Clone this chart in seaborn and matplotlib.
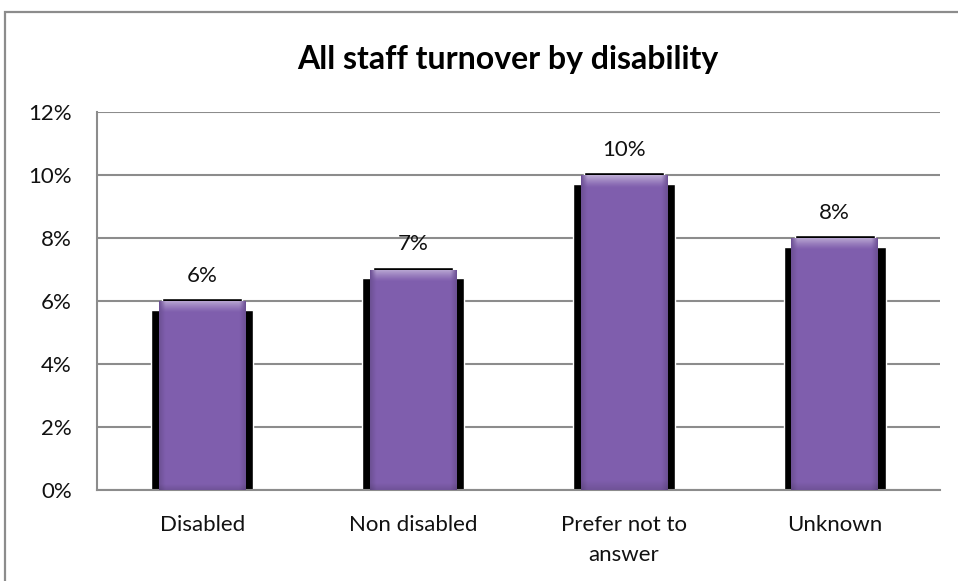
import numpy as np
import pandas as pd
import matplotlib
matplotlib.use("Agg")
import matplotlib.pyplot as plt
from matplotlib.patches import Rectangle
from matplotlib.ticker import FuncFormatter
import seaborn as sns

categories = ["Disabled", "Non disabled", "Prefer not to\nanswer", "Unknown"]
turnover_pct = [6, 7, 10, 8]
y_ticks = [0, 2, 4, 6, 8, 10, 12]

df = pd.DataFrame({"category": categories, "turnover": turnover_pct})

sns.set_theme(style="white")
plt.rcParams["font.family"] = ["Lato", "DejaVu Sans"]

fig = plt.figure(figsize=(9.58, 5.81), dpi=100)
ax = fig.add_axes([97 / 958, 1 - 490 / 581, (940 - 97) / 958, (490 - 112) / 581])

# outer chart frame
fig.patches.append(Rectangle((5 / 958, -0.1), 1.2, 1 - 12 / 581 + 0.1,
                             transform=fig.transFigure, fill=False,
                             edgecolor="#8c8c8c", linewidth=1.6, zorder=0))

# drop shadow behind each bar: wide body that stops just below the top,
# plus a narrower strip peeking out above the bar
sns.barplot(data=df, x="category", y="turnover", color="black", width=0.485,
            saturation=1, ax=ax, zorder=2)
shadow = list(ax.patches)
for p in shadow:
    p.set_height(p.get_height() - 0.28)
sns.barplot(data=df, x="category", y="turnover", color="black", width=0.38,
            saturation=1, ax=ax, zorder=2)
top_shadow = list(ax.patches)[len(shadow):]
for p in top_shadow:
    p.set_height(p.get_height() + 0.09)

# purple bars
n_before = len(ax.patches)
sns.barplot(data=df, x="category", y="turnover", color="#7f5aab", width=0.41,
            saturation=1, ax=ax, zorder=3, edgecolor="none")
bars = list(ax.patches)[n_before:]

# glossy shading on each bar
for p in bars:
    x0, w, h = p.get_x(), p.get_width(), p.get_height()
    ny, nx = 300, 80
    yy = np.linspace(0, 1, ny)[:, None]
    xx = np.linspace(0, 1, nx)[None, :]
    base = np.array([0.50, 0.37, 0.68])
    top_band_frac = 0.38 / h
    light = np.clip(1 - (1 - yy) / top_band_frac, 0, 1) ** 1.2
    edge = np.clip(np.minimum(xx, 1 - xx) / 0.07, 0, 1)
    img = np.ones((ny, nx, 4))
    for c in range(3):
        img[..., c] = (base[c] * (0.86 + 0.14 * edge)
                       + light * (0.48 * (1 - base[c])) * edge)
    bottom_dark = np.clip(1 - yy / 0.03, 0, 1)
    img[..., :3] *= (1 - 0.12 * bottom_dark)[..., None]
    img[..., :3] = np.clip(img[..., :3], 0, 1)
    im = ax.imshow(img, extent=(x0, x0 + w, 0, h), origin="lower",
                   aspect="auto", zorder=3.5, interpolation="bilinear")
    im.set_clip_path(p)

for p, v in zip(bars, turnover_pct):
    ax.text(p.get_x() + p.get_width() / 2, v + 0.80, f"{v}%", ha="center",
            va="center", fontsize=16, color="#111111", zorder=5)

ax.set_xlim(-0.5, len(categories) - 0.5)
ax.set_ylim(0, 12)
ax.set_yticks(y_ticks)
ax.yaxis.set_major_formatter(FuncFormatter(lambda v, _: f"{v:.0f}%"))
ax.grid(axis="y", color="#8c8c8c", linewidth=1.5, zorder=1)
ax.set_axisbelow(True)
for s in ["top", "right"]:
    ax.spines[s].set_visible(False)
for s in ["left", "bottom"]:
    ax.spines[s].set_color("#8c8c8c")
    ax.spines[s].set_linewidth(1.5)
ax.tick_params(axis="both", length=0, labelsize=16, colors="#111111")
ax.tick_params(axis="x", pad=18)
ax.tick_params(axis="y", pad=18)
for lbl in ax.get_xticklabels():
    lbl.set_linespacing(1.6)
ax.set_xlabel("")
ax.set_ylabel("")

fig.text(508 / 958, 1 - 59 / 581, "All staff turnover by disability", ha="center",
         va="center", fontsize=23, fontweight="bold", color="black")

fig.savefig("out.png", dpi=100, facecolor="white")
